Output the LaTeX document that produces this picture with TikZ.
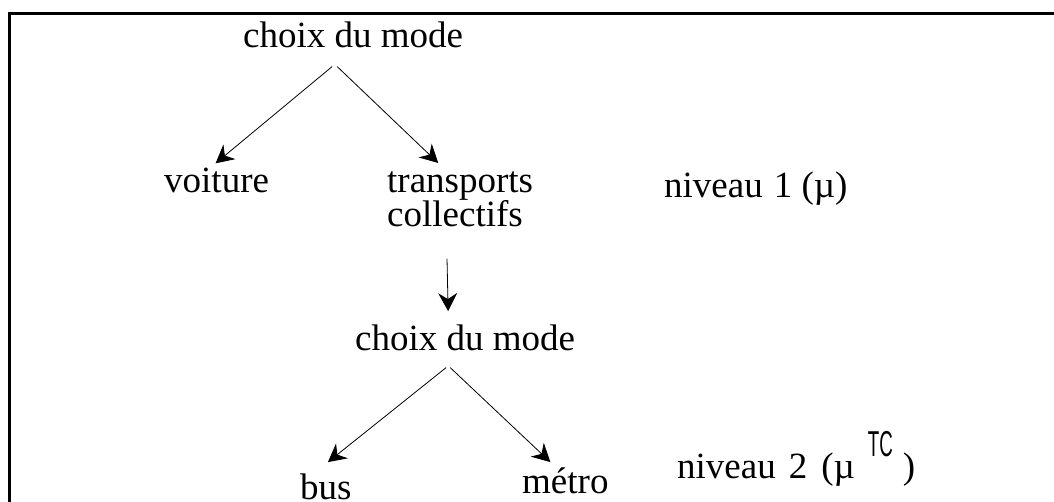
\documentclass[tikz,border=0pt]{standalone}
\usepackage{fontspec}
\setmainfont{Liberation Serif}
\newfontfamily\tcfont{Liberation Sans}
\usepackage{graphicx}
\usepackage{tikz}
\usetikzlibrary{arrows.meta, positioning, calc}

\begin{document}
\begin{tikzpicture}[
  x=1pt, y=-1pt,
  mot/.style={inner sep=0pt, anchor=base west, font=\fontsize{37}{40}\selectfont},
  fleche/.style={draw=black, line width=0.8pt, -{Stealth[length=18pt, width=19pt, inset=6pt]}}
]
  \useasboundingbox (0,0) rectangle (1054,502);
  \draw[line width=3pt] (1054,14) -- (9,14) -- (9,502);

  \node[mot] (choix1) at (243,48)  {choix du mode};
  \node[mot] (voiture) at (164,193) {voiture};
  \node[mot] (transp) at (387,193) {transports};
  \node[mot] (collect) at (387,227) {collectifs};
  \node[mot] (niv1) at (664,198) {niveau\hspace{11pt}1 (µ)};
  \node[mot] (choix2) at (355,350) {choix du mode};
  \node[mot] (bus) at (300,499) {bus};
  \node[mot] (metro) at (522,493) {métro};
  \node[mot] (niv2) at (677,478)
    {niveau\hspace{13pt}2\hspace{14pt}(µ\hspace{13pt}\raisebox{22pt}{\scalebox{0.52}[1]{\tcfont\fontsize{36}{40}\selectfont TC}}\hspace{10pt})};

  \draw[fleche] ($(choix1.south)+(-21,18)$) -- ($(voiture.north)+(-1,-5)$);
  \draw[fleche] ($(choix1.south)+(-16,18)$) -- ($(transp.north)+(-22,-9)$);
  \draw[fleche] ($(collect.south)+(-8,31)$) -- ($(choix2.north)+(-17,-13)$);
  \draw[fleche] ($(choix2.south)+(-19,17)$) -- ($(bus.north)+(2,-11)$);
  \draw[fleche] ($(choix2.south)+(-15,17)$) -- ($(metro.north)+(-15,-5)$);
\end{tikzpicture}
\end{document}
